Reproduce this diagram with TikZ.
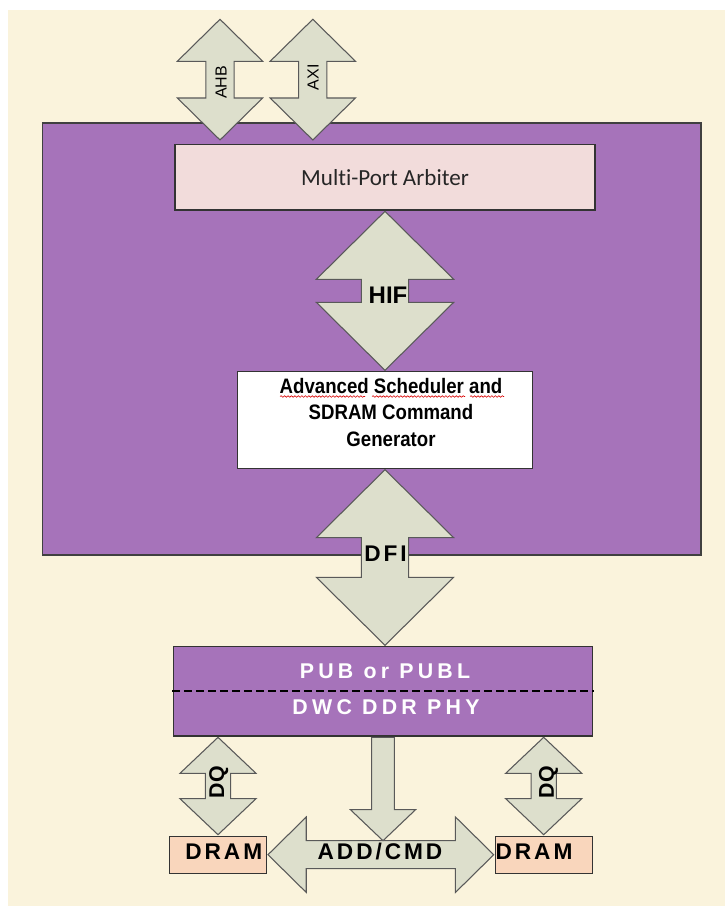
\documentclass[tikz,border=0pt]{standalone}
\usepackage{fontspec}
\setmainfont{Liberation Sans}
\newfontfamily\calibrifont[Ligatures=NoCommon]{Carlito}
\newfontfamily\narrowfont[FakeStretch=0.89]{Liberation Sans}
\newfontfamily\spacedfont[LetterSpace=13]{Liberation Sans}
\newfontfamily\widefont[LetterSpace=20]{Liberation Sans}
\usepackage{tikz}
\usetikzlibrary{calc,decorations.pathmorphing}
\definecolor{cream}{HTML}{FAF3DC}
\definecolor{ctrlpurple}{HTML}{A673BA}
\definecolor{arbpink}{HTML}{F2DCDB}
\definecolor{arrgray}{HTML}{DDDFCC}
\definecolor{drampeach}{HTML}{F9D6BC}
\tikzset{
  ctrlbox/.style={draw=black!75,fill=ctrlpurple,line width=0.8pt,inner sep=0pt},
  arbbox/.style={draw=black!80,fill=arbpink,line width=0.8pt,outer sep=1pt,
    minimum width=315pt,minimum height=49pt,text=black!85,font=\calibrifont\fontsize{17.3}{20}\selectfont},
  schedbox/.style={draw=black!80,fill=white,line width=0.8pt,outer sep=1pt,minimum width=221.5pt,minimum height=72.5pt},
  phybox/.style={draw=black!80,fill=ctrlpurple,line width=0.8pt,outer sep=1pt,minimum width=314.5pt,minimum height=67pt},
  drambox/.style={draw=black!80,fill=drampeach,line width=0.8pt,outer sep=1pt,minimum width=73pt,minimum height=28pt},
  blk/.style={draw=black!65,fill=arrgray,line width=0.8pt},
  bustxt/.style={inner sep=0pt,font=\fontsize{12}{14}\selectfont,rotate=90},
  boldtxt/.style={inner sep=0pt,font=\bfseries\fontsize{18}{20}\selectfont},
  spacedtxt/.style={inner sep=0pt,font=\spacedfont\bfseries\fontsize{17}{20}\selectfont},
  phytxt/.style={inner sep=0pt,anchor=base,text=white,font=\widefont\bfseries\fontsize{16}{20}\selectfont},
  dqtxt/.style={inner sep=0pt,rotate=90,font=\bfseries\fontsize{16}{20}\selectfont},
  squig/.style={draw=red!85!black,line width=0.45pt,decorate,decoration={snake,amplitude=0.6pt,segment length=2.6pt}},
}
% block arrows: #1 start, #2 end, #3 shaft half, #4 head half, #5 head length
\newcommand{\vdbl}[5]{%
  \draw[blk] let \p1=#1, \p2=#2 in
    (\x1,\y1) -- (\x1+#4,\y1-#5) -- (\x1+#3,\y1-#5) -- (\x1+#3,\y2+#5)
    -- (\x1+#4,\y2+#5) -- (\x1,\y2) -- (\x1-#4,\y2+#5) -- (\x1-#3,\y2+#5)
    -- (\x1-#3,\y1-#5) -- (\x1-#4,\y1-#5) -- cycle;}
\newcommand{\hdbl}[5]{%
  \draw[blk] let \p1=#1, \p2=#2 in
    (\x1,\y1) -- (\x1+#5,\y1+#4) -- (\x1+#5,\y1+#3) -- (\x2-#5,\y1+#3)
    -- (\x2-#5,\y1+#4) -- (\x2,\y1) -- (\x2-#5,\y1-#4) -- (\x2-#5,\y1-#3)
    -- (\x1+#5,\y1-#3) -- (\x1+#5,\y1-#4) -- cycle;}
\newcommand{\vsgl}[5]{%
  \draw[blk] let \p1=#1, \p2=#2 in
    (\x1-#3,\y1) -- (\x1+#3,\y1) -- (\x1+#3,\y2+#5) -- (\x1+#4,\y2+#5)
    -- (\x1,\y2) -- (\x1-#4,\y2+#5) -- (\x1-#3,\y2+#5) -- cycle;}

\begin{document}
\begin{tikzpicture}[x=0.75pt,y=-0.75pt]
\useasboundingbox (0,0) rectangle (725,906);
\fill[white] (0,0) rectangle (725,906);
\fill[cream] (8,10) rectangle (725,906);

\node[ctrlbox,minimum width=493.9pt,minimum height=324pt] (ctrl) at (371.75,339) {};
\node[arbbox] (arb) at (385,177.3) {Multi-Port Arbiter};
\node[schedbox] (sched) at (385,420) {};
\node[inner sep=0pt,align=center,font=\narrowfont\bfseries\fontsize{15.7}{20}\selectfont] (schedtxt) at (391,412.4)
  {Advanced Scheduler and\\SDRAM Command\\Generator};
\draw[squig] (280,396.5) -- (365,396.5);
\draw[squig] (372,396.5) -- (465,396.5);
\draw[squig] (470,396.5) -- (504,396.5);

\coordinate (ahbtop) at (220,19.3);
\coordinate (axitop) at (312.8,19.3);
\vdbl{(ahbtop)}{($(ahbtop |- arb.north)+(0,2.5pt)$)}{10.6pt}{32pt}{31.5pt}
\vdbl{(axitop)}{($(axitop |- arb.north)+(0,2.5pt)$)}{10.6pt}{32pt}{31.5pt}
\node[bustxt] (ahb) at (221,82.5) {AHB};
\node[bustxt] (axi) at (313,77.3) {AXI};

\vdbl{(arb.south)}{(sched.north)}{17.7pt}{51.5pt}{51pt}
\node[boldtxt] (hif) at (388,295) {HIF};

\node[phybox] (pub) at (383,691.3) {};
\vdbl{(sched.south)}{(sched.south |- pub.north)}{17.7pt}{51.5pt}{51pt}
\node[spacedtxt] (dfi) at (385.5,553.3) {DFI};
\draw[dashed,line width=1.4pt,dash pattern=on 6pt off 3pt] (pub.west) -- (pub.east);
\node[phytxt] (publ) at (385,678) {PUB or PUBL};
\node[phytxt] (phy) at (386,714) {DWC DDR PHY};

\node[drambox] (dram1) at (218,854.7) {};
\node[drambox] (dram2) at (543.7,854.7) {};
\vdbl{(dram1.north |- pub.south)}{(dram1.north)}{9.5pt}{28.5pt}{27pt}
\vdbl{(dram2.north |- pub.south)}{(dram2.north)}{9.5pt}{28.5pt}{27pt}
\node[dqtxt] (dq1) at (218.8,782) {DQ};
\node[dqtxt] (dq2) at (548.5,782) {DQ};

\hdbl{(dram1.east)}{(dram2.west)}{10.5pt}{28.3pt}{28.7pt}
\vsgl{(pub.south)}{($(pub.south |- dram1.east)+(0,10.5pt)$)}{8.5pt}{24.4pt}{23.25pt}
\node[spacedtxt] (addcmd) at (380,852) {ADD/CMD};
\node[spacedtxt] (dram1t) at (223.8,851.7) {DRAM};
\node[spacedtxt] (dram2t) at (534,851.7) {DRAM};
\end{tikzpicture}
\end{document}
